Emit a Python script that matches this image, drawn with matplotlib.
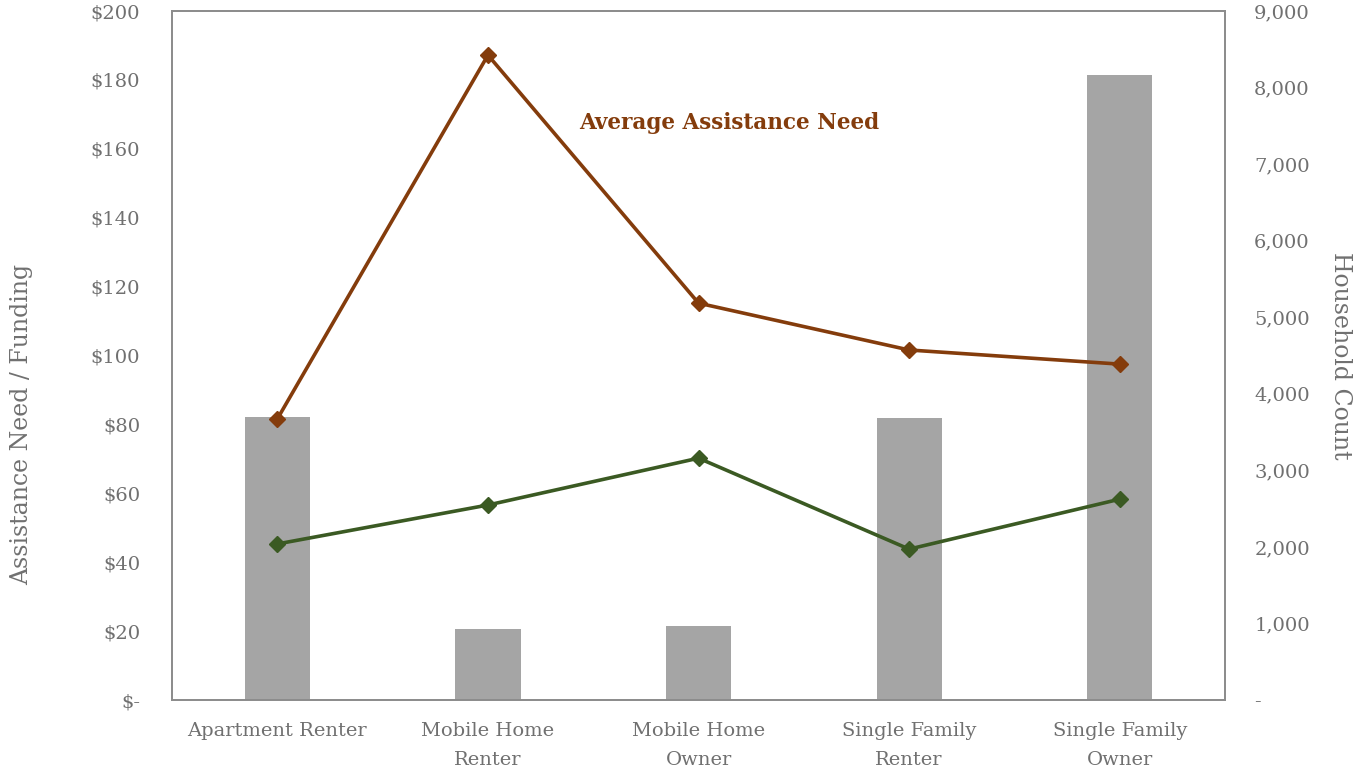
import matplotlib.pyplot as plt
from matplotlib.ticker import FuncFormatter

# data
categories = ['Apartment Renter', 'Mobile Home\nRenter', 'Mobile Home\nOwner',
              'Single Family\nRenter', 'Single Family\nOwner']
household_count = [3695, 927, 966, 3682, 8162]
avg_need = [81.6, 187.2, 115.2, 101.6, 97.5]
avg_funding = [45.3, 56.6, 70.2, 43.8, 58.3]

plt.rcParams['font.family'] = ['DejaVu Serif']
text_col = '#707070'
brown = '#843c0c'
green = '#3b5a23'

fig = plt.figure(figsize=(13.58, 7.7), dpi=100)
ax = fig.add_axes([0.1267, 0.0909, 0.7754, 0.8948])
ax2 = ax.twinx()

x = list(range(len(categories)))

# bars on the right axis
ax2.bar(x, household_count, width=0.31, color='#a5a5a5', zorder=1)
ax2.set_ylim(0, 9000)
ax2.set_yticks(range(0, 9001, 1000))
ax2.yaxis.set_major_formatter(FuncFormatter(lambda v, p: '-' if v == 0 else f'{int(v):,}'))

# lines on the left axis, drawn on top
ax.set_zorder(ax2.get_zorder() + 1)
ax.patch.set_visible(False)
ax.plot(x, avg_need, color=brown, lw=2.6, marker='D', ms=8, zorder=3)
ax.plot(x, avg_funding, color=green, lw=2.6, marker='D', ms=8, zorder=3)
ax.set_ylim(0, 200)
ax.set_yticks(range(0, 201, 20))
ax.yaxis.set_major_formatter(FuncFormatter(lambda v, p: '$-' if v == 0 else f'${int(v)}'))
ax.set_xlim(-0.5, len(categories) - 0.5)
ax.set_xticks(x)
ax.set_xticklabels(categories, linespacing=1.75)

ax.text(2.145, 167.5, 'Average Assistance Need', color=brown, fontsize=15.5,
        fontweight='bold', ha='center', va='center')

for a in (ax, ax2):
    a.tick_params(length=0, labelsize=14, labelcolor=text_col)
    for s in a.spines.values():
        s.set_color('#8c8c8c')
        s.set_linewidth(1.3)
ax.tick_params(axis='y', pad=23)
ax.tick_params(axis='x', pad=16)
ax2.tick_params(axis='y', pad=21)

ax.set_ylabel('Assistance Need / Funding', fontsize=17, color=text_col)
ax.yaxis.set_label_coords(-0.132, 0.40)
ax2.set_ylabel('Household Count', fontsize=17, color=text_col, rotation=270, labelpad=30)

fig.savefig('out.png', dpi=100)
